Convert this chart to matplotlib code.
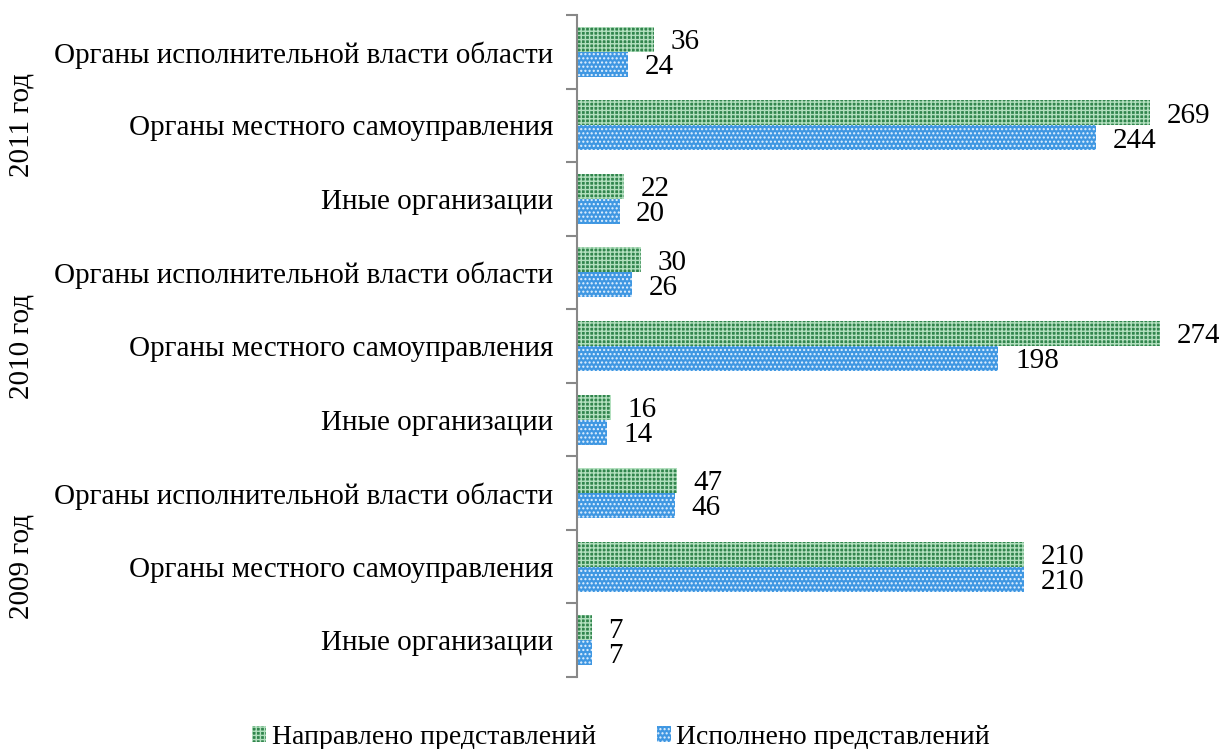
import numpy as np
import matplotlib
matplotlib.use("Agg")
import matplotlib.pyplot as plt
import matplotlib.transforms as mtransforms

plt.rcParams['font.family'] = ['Liberation Serif', 'DejaVu Serif']
plt.rcParams['hatch.linewidth'] = 1.0

# data, top to bottom
years = ["2011 год", "2010 год", "2009 год"]
orgs = ["Органы исполнительной власти области",
        "Органы местного самоуправления",
        "Иные организации"]
sent = [36, 269, 22, 30, 274, 16, 47, 210, 7]       # Направлено представлений
done = [24, 244, 20, 26, 198, 14, 46, 210, 7]       # Исполнено представлений

n = len(sent)
labels = orgs * len(years)
y = np.arange(n)[::-1]   # first item at top
h = 0.34
fs = 21

fig = plt.figure(figsize=(12.19, 7.49), dpi=100)
ax = fig.add_axes([0.4733, 0.0961, 0.4890, 0.8839])

b1 = ax.barh(y + h / 2, sent, height=h, color='#31854d', edgecolor='#b3e0bf',
             hatch='++++', linewidth=0, label='Направлено представлений')
b2 = ax.barh(y - h / 2, done, height=h, color='#3f97e2', edgecolor='#e4f2ff',
             hatch='....', linewidth=0, label='Исполнено представлений')

off = mtransforms.offset_copy(ax.transData, fig=fig, x=12, y=-2, units='points')
for yy, v in zip(y, sent):
    ax.text(v, yy + h / 2, str(v), va='center', ha='left', fontsize=fs, transform=off)
for yy, v in zip(y, done):
    ax.text(v, yy - h / 2, str(v), va='center', ha='left', fontsize=fs, transform=off)

ax.set_xlim(0, 280)
ax.set_ylim(-0.5, n - 0.5)

ax.set_yticks(y)
ax.set_yticklabels(labels, fontsize=fs)
ax.tick_params(axis='y', which='major', length=0, pad=17)
ax.set_yticks(np.arange(-0.5, n, 1.0), minor=True)
ax.tick_params(axis='y', which='minor', length=8, color='#888888', width=1.5)
ax.set_xticks([])

for s in ['top', 'right', 'bottom']:
    ax.spines[s].set_visible(False)
ax.spines['left'].set_color('#888888')
ax.spines['left'].set_linewidth(1.5)

# year labels, left edge of figure
ytr = mtransforms.blended_transform_factory(fig.transFigure, ax.transData)
for i, yr in enumerate(years):
    yc = n - 1 - (3 * i + 1)
    ax.text(22 / 1219, yc, yr, transform=ytr, rotation=90,
            va='center', ha='center', fontsize=fs)

fig.legend(handles=[b1, b2], loc='center', bbox_to_anchor=(621 / 1219, 1 - 737 / 749),
           ncol=2, frameon=False, fontsize=20, handlelength=0.5, handleheight=0.5,
           handletextpad=0.2, columnspacing=2.2)

fig.savefig('out.png', dpi=100)
